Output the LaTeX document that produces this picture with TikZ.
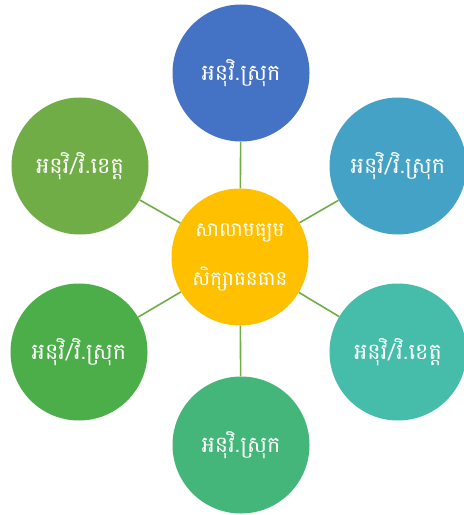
\documentclass[tikz,border=0pt]{standalone}
\usepackage{fontspec}
\newfontfamily\khmerfont[Script=Khmer]{Battambang}
\usepackage{tikz}
\usepackage{xcolor}
\definecolor{topblue}{HTML}{4472C4}
\definecolor{rtblue}{HTML}{43A2C5}
\definecolor{rbteal}{HTML}{45BDAA}
\definecolor{botgreen}{HTML}{44B67A}
\definecolor{lbgreen}{HTML}{4BAE48}
\definecolor{ltgreen}{HTML}{70AD47}
\definecolor{hubgold}{HTML}{FFC000}
\tikzset{
  unit/.style={circle, minimum size=137bp, inner sep=0pt, text=white, font=\khmerfont\fontsize{22.5}{26}\selectfont},
  link/.style={draw=ltgreen, line width=1.6pt}
}

\begin{document}
\begin{tikzpicture}[x=1bp,y=-1bp]
\useasboundingbox (0,0) rectangle (464,515);
\node[unit, fill=hubgold, align=center, font=\khmerfont\fontsize{20}{24}\selectfont] (hub) at (240,257) {សាលាមធ្យម\\[24bp]សិក្សាធនធាន};
\node[unit, fill=topblue] (top) at (241,73) {អនុវិ.ស្រុក};
\node[unit, fill=rtblue] (rtop) at (398,166) {អនុវិ/វិ.ស្រុក};
\node[unit, fill=rbteal] (rbot) at (398,352) {អនុវិ/វិ.ខេត្ត};
\node[unit, fill=botgreen] (bot) at (241,445) {អនុវិ.ស្រុក};
\node[unit, fill=lbgreen] (lbot) at (79,352) {អនុវិ/វិ.ស្រុក};
\node[unit, fill=ltgreen] (ltop) at (80,166) {អនុវិ/វិ.ខេត្ត};
\draw[link] (hub) -- (top);
\draw[link] (hub) -- (rtop);
\draw[link] (hub) -- (rbot);
\draw[link] (hub) -- (bot);
\draw[link] (hub) -- (lbot);
\draw[link] (hub) -- (ltop);
\end{tikzpicture}
\end{document}
